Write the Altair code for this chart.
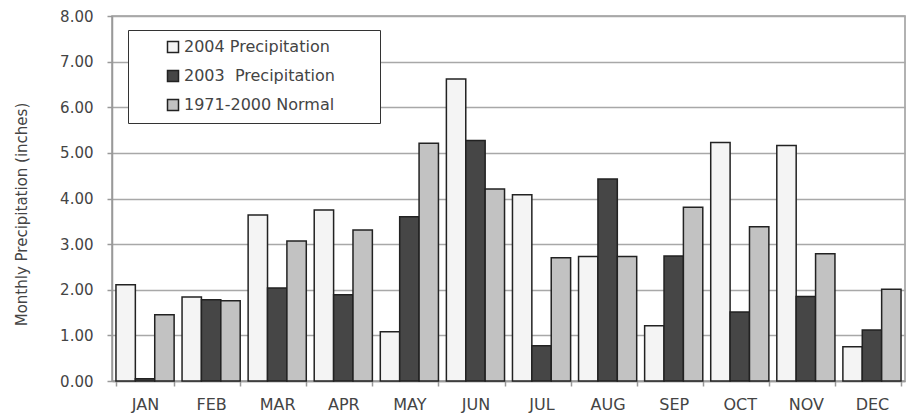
import altair as alt
import pandas as pd

months = ["JAN", "FEB", "MAR", "APR", "MAY", "JUN", "JUL", "AUG", "SEP", "OCT", "NOV", "DEC"]
series_names = ["2004 Precipitation", "2003\u00a0\u00a0Precipitation", "1971-2000 Normal"]
p2004 = [2.11, 1.84, 3.64, 3.75, 1.08, 6.62, 4.08, 2.73, 1.21, 5.23, 5.16, 0.75]
p2003 = [0.05, 1.78, 2.04, 1.89, 3.60, 5.27, 0.77, 4.43, 2.74, 1.51, 1.85, 1.12]
normal = [1.45, 1.76, 3.07, 3.31, 5.21, 4.21, 2.70, 2.73, 3.81, 3.38, 2.79, 2.01]
colors = ["#f4f4f4", "#464646", "#c2c2c2"]

rows = []
for name, vals in zip(series_names, [p2004, p2003, normal]):
    for m, v in zip(months, vals):
        rows.append({"Month": m, "Series": name, "Value": v})
df = pd.DataFrame(rows)

FONT = "DejaVu Sans"
TXT = "#444444"

chart = alt.Chart(df).mark_bar(stroke="#222222", strokeWidth=1.5).encode(
    x=alt.X("Month:N", sort=months,
            scale=alt.Scale(paddingInner=0.12, paddingOuter=0.06),
            axis=alt.Axis(title=None, labelAngle=0, tickBand="extent", grid=False,
                          labelPadding=10, tickSize=5, tickColor="#999999",
                          domainColor="#999999", domainWidth=1.5, tickWidth=1.5,
                          labelFont=FONT, labelFontSize=16, labelColor=TXT)),
    xOffset=alt.XOffset("Series:N", sort=series_names, scale=alt.Scale(paddingInner=0, paddingOuter=0)),
    y=alt.Y("Value:Q", scale=alt.Scale(domain=[0, 8], nice=False),
            axis=alt.Axis(title="Monthly Precipitation (inches)", format=".2f",
                          values=[0, 1, 2, 3, 4, 5, 6, 7, 8], grid=True,
                          gridColor="#a8a8a8", gridWidth=1.5, tickSize=5,
                          tickColor="#999999", tickWidth=1.5, domainColor="#999999",
                          domainWidth=1.5, labelPadding=14, titlePadding=30,
                          labelFont=FONT, labelFontSize=15, labelColor=TXT,
                          titleFont=FONT, titleFontSize=15, titleColor=TXT,
                          titleFontWeight="normal", titleY=198)),
    color=alt.Color("Series:N", sort=series_names,
                    scale=alt.Scale(domain=series_names, range=colors),
                    legend=alt.Legend(title=None, orient="none", legendX=16, legendY=14,
                                      strokeColor="#333333", fillColor="white",
                                      padding=9, rowPadding=11, symbolType="square",
                                      symbolSize=121, symbolStrokeColor="#222222",
                                      symbolStrokeWidth=1.5, symbolOffset=28,
                                      labelOffset=3, labelFontSize=16, labelColor=TXT,
                                      labelFont=FONT, labelLimit=400,
                                      labelExpr="datum.label + '" + "\u00a0" * 7 + "\u200b'")),
).properties(
    width=793, height=365,
    autosize=alt.AutoSizeParams(type="none"),
    padding={"left": 112, "top": 16, "right": 11, "bottom": 35},
    background="white",
).configure_view(
    stroke="#999999", strokeWidth=1.5
)

chart.save("out.html", embed_options={"renderer": "svg", "actions": False})
